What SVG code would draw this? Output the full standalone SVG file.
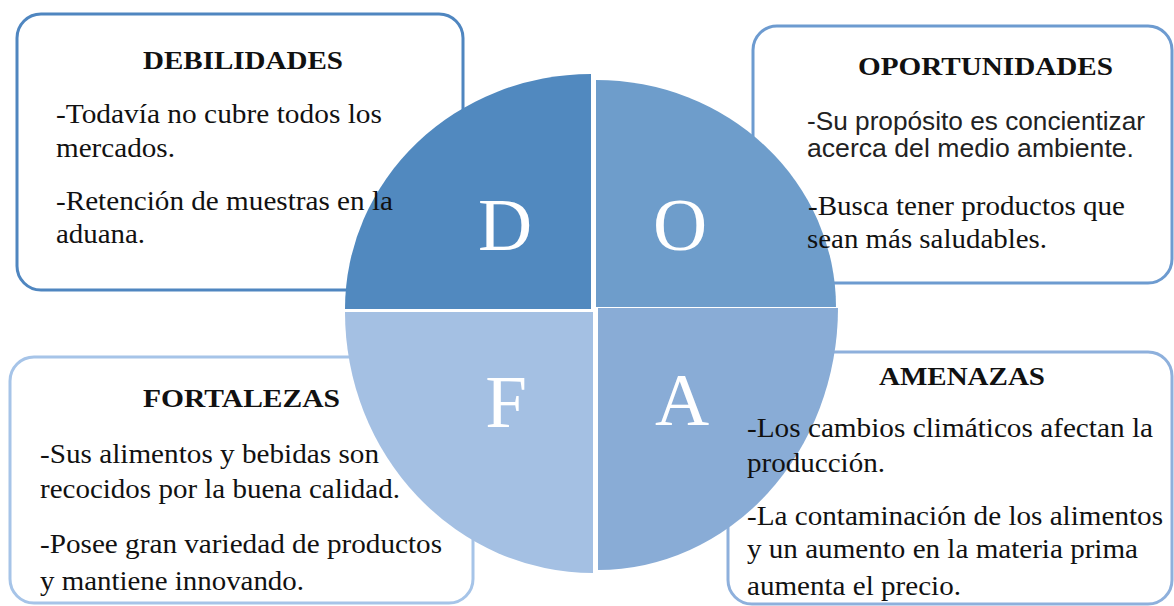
<svg xmlns="http://www.w3.org/2000/svg" width="1174" height="606" viewBox="0 0 1174 606">
<style>
.box{fill:#ffffff;stroke-width:3}
.t{font-family:"Liberation Serif","Times New Roman",serif;font-size:27px;fill:#111111}
.s{font-family:"Liberation Sans",Arial,sans-serif;font-size:26px;fill:#222222}
.h{font-family:"Liberation Serif","Times New Roman",serif;font-size:25px;font-weight:bold;fill:#111111}
.big{font-family:"Liberation Serif","Times New Roman",serif;font-size:75px;fill:#ffffff;text-anchor:middle}
</style>
<rect width="1174" height="606" fill="#ffffff"/>
<g id="frames">
<rect id="frame-debilidades" class="box" x="17" y="14" width="446" height="276" rx="24" stroke="#4f86c0"/>
<rect id="frame-oportunidades" class="box" x="753" y="26" width="419" height="257" rx="24" stroke="#6d9bd0"/>
<rect id="frame-fortalezas" class="box" x="10" y="357" width="463" height="246" rx="24" stroke="#a6c4e8"/>
<rect id="frame-amenazas" class="box" x="728" y="352" width="444" height="252" rx="24" stroke="#8eb0dc"/>
</g>
<g id="quadrant-D">
<path d="M591,309 L345,309 A246,235 0 0 1 591,74 Z" fill="#5189bf"/>
<text class="big" x="505" y="250">D</text>
</g>
<g id="quadrant-O">
<path d="M596,307 L596,80 A240,227 0 0 1 836,307 Z" fill="#6e9dcb"/>
<text class="big" x="680" y="250">O</text>
</g>
<g id="quadrant-F">
<path d="M593,312 L593,573 A248,261 0 0 1 345,312 Z" fill="#a4c0e3"/>
<text class="big" x="506" y="427">F</text>
</g>
<g id="quadrant-A">
<path d="M598,308 L838,308 A240,262 0 0 1 598,570 Z" fill="#89acd6"/>
<text class="big" x="682" y="425">A</text>
</g>
<g id="debilidades">
<text class="h" x="143" y="69" textLength="200" lengthAdjust="spacingAndGlyphs">DEBILIDADES</text>
<text class="t" x="56" y="123" textLength="326" lengthAdjust="spacingAndGlyphs">-Todavía no cubre todos los</text>
<text class="t" x="56" y="157" textLength="119" lengthAdjust="spacingAndGlyphs">mercados.</text>
<text class="t" x="56" y="210" textLength="337" lengthAdjust="spacingAndGlyphs">-Retención de muestras en la</text>
<text class="t" x="56" y="243" textLength="89" lengthAdjust="spacingAndGlyphs">aduana.</text>
</g>
<g id="oportunidades">
<text class="h" x="858" y="75" textLength="255" lengthAdjust="spacingAndGlyphs">OPORTUNIDADES</text>
<text class="s" x="807" y="130" textLength="338" lengthAdjust="spacingAndGlyphs">-Su propósito es concientizar</text>
<text class="s" x="807" y="157" textLength="327" lengthAdjust="spacingAndGlyphs">acerca del medio ambiente.</text>
<text class="t" x="808" y="215" textLength="317" lengthAdjust="spacingAndGlyphs">-Busca tener productos que</text>
<text class="t" x="807" y="248" textLength="240" lengthAdjust="spacingAndGlyphs">sean más saludables.</text>
</g>
<g id="fortalezas">
<text class="h" x="143" y="407" textLength="197" lengthAdjust="spacingAndGlyphs">FORTALEZAS</text>
<text class="t" x="40" y="463" textLength="339" lengthAdjust="spacingAndGlyphs">-Sus alimentos y bebidas son</text>
<text class="t" x="40" y="498" textLength="360" lengthAdjust="spacingAndGlyphs">recocidos por la buena calidad.</text>
<text class="t" x="40" y="553" textLength="402" lengthAdjust="spacingAndGlyphs">-Posee gran variedad de productos</text>
<text class="t" x="40" y="590" textLength="264" lengthAdjust="spacingAndGlyphs">y mantiene innovando.</text>
</g>
<g id="amenazas">
<text class="h" x="879" y="385" textLength="166" lengthAdjust="spacingAndGlyphs">AMENAZAS</text>
<text class="t" x="747" y="437" textLength="406" lengthAdjust="spacingAndGlyphs">-Los cambios climáticos afectan la</text>
<text class="t" x="747" y="472" textLength="138" lengthAdjust="spacingAndGlyphs">producción.</text>
<text class="t" x="747" y="525" textLength="416" lengthAdjust="spacingAndGlyphs">-La contaminación de los alimentos</text>
<text class="t" x="747" y="558" textLength="391" lengthAdjust="spacingAndGlyphs">y un aumento en la materia prima</text>
<text class="t" x="747" y="595" textLength="214" lengthAdjust="spacingAndGlyphs">aumenta el precio.</text>
</g>
<g id="connectors"/>
</svg>
